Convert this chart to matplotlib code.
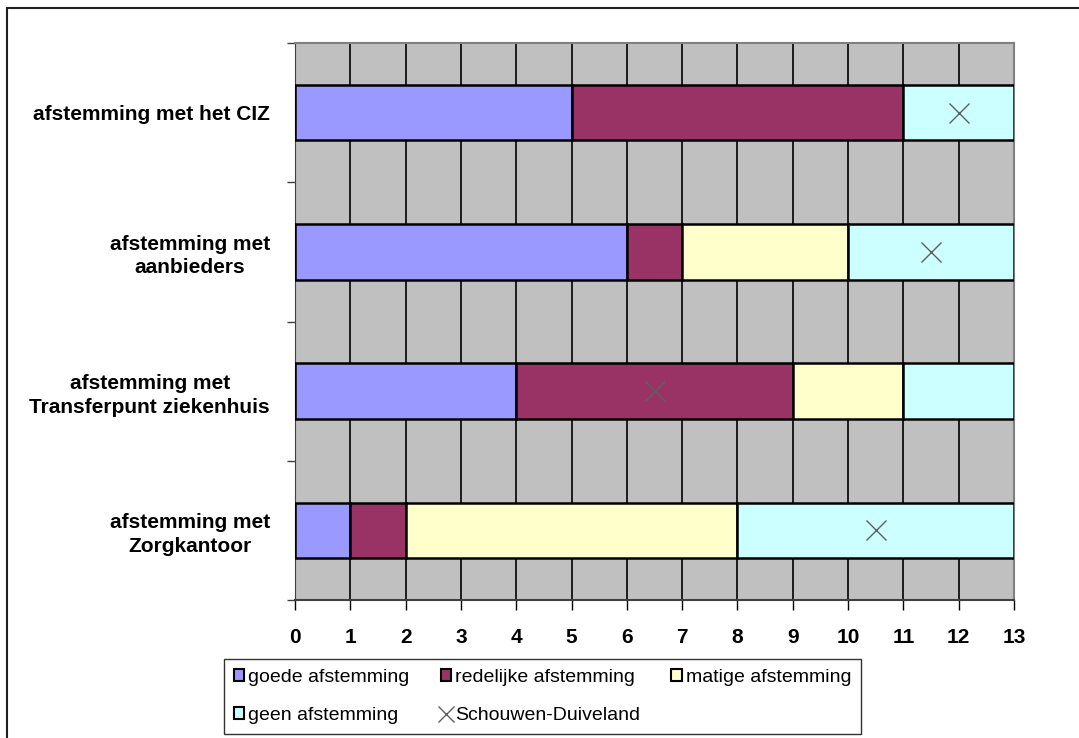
import numpy as np
import matplotlib.pyplot as plt
from matplotlib.patches import Rectangle, Patch
from matplotlib.lines import Line2D

plt.rcParams['font.family'] = ['Liberation Sans', 'DejaVu Sans']

categories = ['afstemming met het CIZ',
              'afstemming met\naanbieders',
              'afstemming met\nTransferpunt ziekenhuis',
              'afstemming met\nZorgkantoor']
series_names = ['goede afstemming', 'redelijke afstemming', 'matige afstemming', 'geen afstemming']
goede = [5, 6, 4, 1]
redelijke = [6, 1, 5, 1]
matige = [0, 3, 2, 6]
geen = [2, 3, 2, 5]
schouwen = [12, 11.5, 6.5, 10.5]
colors = ['#9999FF', '#993366', '#FFFFCC', '#CCFFFF']

fig = plt.figure(figsize=(10.79, 7.38), dpi=100)
ax = fig.add_axes([295 / 1079, 1 - 600 / 738, 719 / 1079, 557 / 738])
ax.set_facecolor('#C0C0C0')

y = np.arange(len(categories))
left = np.zeros(len(categories))
for vals, col, name in zip([goede, redelijke, matige, geen], colors, series_names):
    vals = np.array(vals, dtype=float)
    ax.barh(y, vals, left=left, height=0.4, color=col, edgecolor='black',
            linewidth=1.8, label=name, zorder=3)
    left += vals

ax.plot(schouwen, y, linestyle='none', marker='x', markersize=14,
        markeredgewidth=1.0, color='#606060', zorder=4, label='Schouwen-Duiveland')

ax.set_xlim(0, 13)
ax.set_ylim(len(categories) - 0.5, -0.5)
ax.set_xticks(range(14))
ax.xaxis.grid(True, color='black', linewidth=1.2)
ax.set_axisbelow(True)
for lbl in ax.get_xticklabels():
    lbl.set_fontweight('bold')
ax.tick_params(axis='x', labelsize=15, length=7, width=1, pad=13)

ax.set_yticks(y)
ax.set_yticklabels(categories, fontsize=15, fontweight='bold', ha='right',
                   multialignment='center', linespacing=1.3)
ax.tick_params(axis='y', which='major', length=0, pad=18)
ax.set_yticks(np.arange(-0.5, len(categories)), minor=True)
ax.tick_params(axis='y', which='minor', length=6, width=1, color='#404040')

for s in ['top', 'right']:
    ax.spines[s].set_color('#808080')
    ax.spines[s].set_linewidth(1.5)
ax.spines['left'].set_color('#404040')
ax.spines['bottom'].set_color('#404040')
ax.spines['bottom'].set_linewidth(1.5)

# outer chart frame
fig.patches.append(Rectangle((7 / 1079, -0.05), 1.1, 1 - 8 / 738 + 0.05, transform=fig.transFigure,
                             fill=False, edgecolor='#202020', linewidth=1.5))

handles = [Patch(facecolor=c, edgecolor='black', linewidth=1.5) for c in colors]
xh = Line2D([], [], linestyle='none', marker='x', markersize=11, markeredgewidth=1.0, color='#606060')
order_h = [handles[0], handles[3], handles[1], xh, handles[2]]
order_l = [series_names[0], series_names[3], series_names[1], 'Schouwen-Duiveland', series_names[2]]
leg = fig.legend(order_h, order_l, loc='upper left', bbox_to_anchor=(224 / 1079, 1 - 659 / 738),
                 ncol=3, fontsize=14, frameon=True, fancybox=False, edgecolor='black',
                 handlelength=0.55, handleheight=0.55, handletextpad=0.2, columnspacing=1.6,
                 labelspacing=1.1, borderpad=0.5, borderaxespad=0)
leg.get_frame().set_linewidth(1.0)

fig.savefig('out.png', dpi=100)
